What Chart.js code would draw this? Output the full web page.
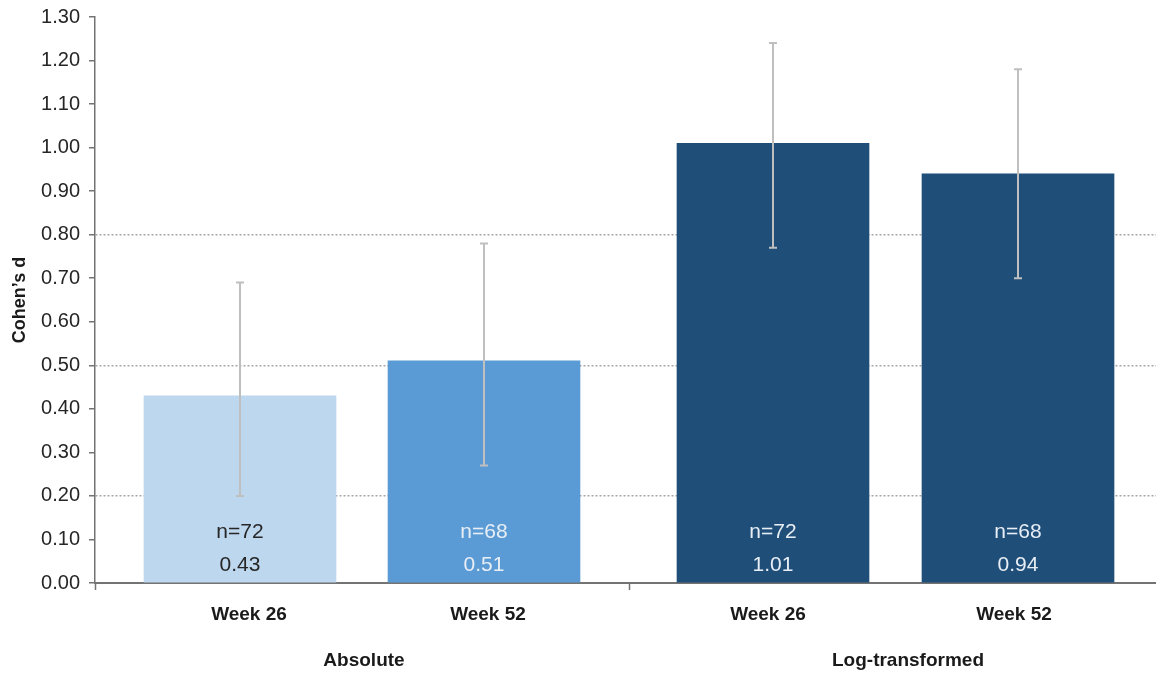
<!DOCTYPE html>
<html>
<head>
<meta charset="utf-8">
<title>Cohen's d by week</title>
<script src="https://cdn.jsdelivr.net/npm/chart.js@4.4.1/dist/chart.umd.min.js"></script>
<style>
  html, body { margin: 0; padding: 0; background: #ffffff; }
  canvas { display: block; }
</style>
</head>
<body>
<canvas id="chart" width="1156" height="674"></canvas>
<script>
// Effect sizes per analysis and time point
const categories  = ['Week 26', 'Week 52', 'Week 26', 'Week 52'];
const groups      = ['Absolute', 'Log-transformed'];
const sampleSizes = [72, 68, 72, 68];
const cohensD     = [0.43, 0.51, 1.01, 0.94];
const ciLower     = [0.20, 0.27, 0.77, 0.70];
const ciUpper     = [0.69, 0.78, 1.24, 1.18];

// Horizontal layout on a linear x scale (bars spaced unevenly across the two groups)
const X_MAX = 10.61;
const slotCenters  = [1.45, 3.89, 6.78, 9.23];
const labelCenters = [1.54, 3.93, 6.73, 9.19];
const groupDivider = 5.34;
const groupCenters = [2.69, 8.13];

const barColors   = ['#bdd7ee', '#5b9bd5', '#1f4e79', '#1f4e79'];
const labelColors = ['#262626', '#e8eef5', '#e8eef5', '#e8eef5'];
const FONT = '"Liberation Sans", Arial, Helvetica, sans-serif';
const AXIS_COLOR = '#737373';

const dottedAt = [0.2, 0.5, 0.8];

const overlay = {
  id: 'overlay',
  afterDatasetsDraw(chart) {
    const { ctx, scales: { x, y }, chartArea } = chart;
    ctx.save();
    // confidence intervals
    ctx.strokeStyle = '#bfbfbf';
    ctx.lineWidth = 2;
    slotCenters.forEach((c, i) => {
      const px = x.getPixelForValue(c);
      const yLo = y.getPixelForValue(ciLower[i]);
      const yHi = y.getPixelForValue(ciUpper[i]);
      ctx.beginPath();
      ctx.moveTo(px, yLo); ctx.lineTo(px, yHi);
      ctx.moveTo(px - 4, yLo); ctx.lineTo(px + 4, yLo);
      ctx.moveTo(px - 4, yHi); ctx.lineTo(px + 4, yHi);
      ctx.stroke();
    });
    // sample size and value inside each bar
    ctx.font = '21px ' + FONT;
    ctx.textAlign = 'center';
    ctx.textBaseline = 'middle';
    slotCenters.forEach((c, i) => {
      const px = x.getPixelForValue(c);
      ctx.fillStyle = labelColors[i];
      ctx.fillText('n=' + sampleSizes[i], px, chartArea.bottom - 51);
      ctx.fillText(cohensD[i].toFixed(2), px, chartArea.bottom - 18);
    });
    ctx.restore();
  },
  afterDraw(chart) {
    const { ctx, scales: { x } } = chart;
    ctx.save();
    ctx.font = 'bold 19px ' + FONT;
    ctx.fillStyle = '#1a1a1a';
    ctx.textAlign = 'center';
    ctx.textBaseline = 'middle';
    groups.forEach((g, i) => {
      ctx.fillText(g, x.getPixelForValue(groupCenters[i]), 661);
    });
    ctx.restore();
  }
};

new Chart(document.getElementById('chart'), {
  type: 'bar',
  data: {
    datasets: [{
      data: cohensD.map((v, i) => ({ x: slotCenters[i], y: v })),
      backgroundColor: barColors,
      borderWidth: 0,
      barThickness: 192
    }]
  },
  options: {
    responsive: false,
    devicePixelRatio: 1,
    animation: false,
    layout: { padding: { top: 17, right: 0, bottom: 0, left: 0 } },
    plugins: { legend: { display: false }, tooltip: { enabled: false } },
    scales: {
      x: {
        type: 'linear',
        min: 0,
        max: X_MAX,
        offset: false,
        afterBuildTicks(scale) {
          scale.ticks = [0, ...labelCenters, groupDivider]
            .sort((a, b) => a - b)
            .map(v => ({ value: v }));
        },
        afterFit(scale) {
          scale.height = 91;
          scale.paddingLeft = 0;
          scale.paddingRight = 0;
        },
        grid: {
          offset: false,
          drawOnChartArea: false,
          tickLength: 7,
          tickWidth: 1.5,
          tickColor(ctx) {
            const v = ctx.tick && ctx.tick.value;
            return (v === 0 || Math.abs(v - groupDivider) < 1e-6) ? AXIS_COLOR : 'rgba(0,0,0,0)';
          }
        },
        border: { display: true, color: AXIS_COLOR, width: 2 },
        ticks: {
          autoSkip: false,
          maxRotation: 0,
          padding: 13,
          color: '#1a1a1a',
          font: { family: FONT, size: 19, weight: 'bold' },
          callback(value) {
            const i = labelCenters.findIndex(c => Math.abs(c - value) < 1e-6);
            return i >= 0 ? categories[i] : '';
          }
        }
      },
      y: {
        min: 0,
        max: 1.3,
        afterFit(scale) {
          scale.width = 95;
          scale.paddingTop = 0;
          scale.paddingBottom = 0;
        },
        ticks: {
          stepSize: 0.1,
          padding: 9,
          color: '#262626',
          font: { family: FONT, size: 20 },
          callback: v => Number(v).toFixed(2)
        },
        grid: {
          lineWidth: 1.5,
          tickLength: 6,
          tickWidth: 1.5,
          tickColor: AXIS_COLOR,
          color(ctx) {
            const v = ctx.tick && ctx.tick.value;
            return dottedAt.some(d => Math.abs(d - v) < 1e-6) ? '#a6a6a6' : 'rgba(0,0,0,0)';
          }
        },
        border: { display: true, color: AXIS_COLOR, width: 1.5, dash: [2, 2] },
        title: {
          display: true,
          text: 'Cohen’s d',
          color: '#1a1a1a',
          font: { family: FONT, size: 18, weight: 'bold' },
          padding: { top: 9, bottom: 0 }
        }
      }
    }
  },
  plugins: [overlay]
});
</script>
</body>
</html>
